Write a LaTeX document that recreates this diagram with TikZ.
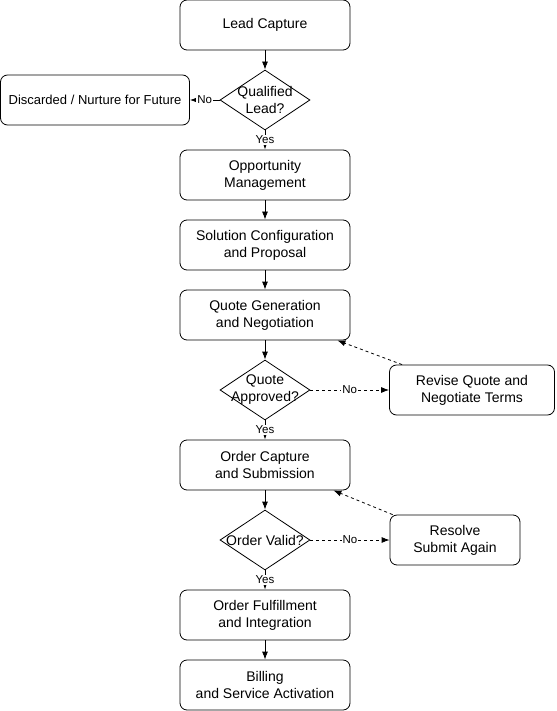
\documentclass[tikz,border=0pt]{standalone}
\usepackage{fontspec}
\setmainfont{Liberation Sans}
\usetikzlibrary{shapes,arrows.meta}

\begin{document}
\begin{tikzpicture}[node distance = 70pt, thick]

    % Define block styles
    \tikzstyle{block} = [rectangle, draw, rounded corners=7pt,
        minimum width=170pt, minimum height=50pt, align=center,
        font=\fontsize{14}{17}\selectfont]
    \tikzstyle{decision} = [diamond, draw, minimum width=90pt,
        minimum height=60pt, inner sep=0pt]
    \tikzstyle{decisiontext} = [align=center, font=\fontsize{14}{17}\selectfont]
    \tikzstyle{line} = [draw, -{Latex[length=8pt,width=6pt]}]
    \tikzstyle{back} = [line, dash pattern=on 3pt off 3pt]
    \tikzstyle{answer} = [fill=white, inner sep=1pt, font=\fontsize{11.5}{13}\selectfont]

    \useasboundingbox (0,0) rectangle (556pt,-711pt);

    % Place nodes
    \node [block] (lead) at (265pt,-25pt) {Lead Capture};
    \node [decision, below of=lead, node distance=75pt,
        label={[decisiontext]center:{Qualified\\Lead?}}] (qualify) {};
    \node [block, left of=qualify, node distance=170pt, minimum width=189pt,
        font=\fontsize{13}{16}\selectfont] (discard) {Discarded / Nurture for Future};
    \node [block, below of=qualify, node distance=75pt] (opportunity) {Opportunity\\Management};
    \node [block, below of=opportunity] (solution) {Solution Configuration\\and Proposal};
    \node [block, below of=solution] (quote) {Quote Generation\\and Negotiation};
    \node [decision, below of=quote, node distance=75pt,
        label={[decisiontext]center:{Quote\\Approved?}}] (approved) {};
    \node [block, right of=approved, node distance=207pt, minimum width=165pt] (revise) {Revise Quote and\\Negotiate Terms};
    \node [block, below of=approved, node distance=75pt] (order) {Order Capture\\and Submission};
    \node [decision, below of=order, node distance=75pt,
        label={[decisiontext]center:{Order Valid?}}] (valid) {};
    \node [block, right of=valid, node distance=190pt, minimum width=130pt] (resolve) {Resolve\\Submit Again};
    \node [block, below of=valid, node distance=75pt] (fulfil) {Order Fulfillment\\and Integration};
    \node [block, below of=fulfil] (billing) {Billing\\and Service Activation};

    % Draw edges
    \path [line] (lead) -- (qualify);
    \path [line] (qualify) -- node [answer] {No} (discard);
    \path [line] (qualify) -- node [answer] {Yes} (opportunity);
    \path [line] (opportunity) -- (solution);
    \path [line] (solution) -- (quote);
    \path [line] (quote) -- (approved);
    \path [back] (approved) -- node [answer] {No} (revise);
    \path [back] ([xshift=13pt]revise.north west) -- ([xshift=-13pt]quote.south east);
    \path [line] (approved) -- node [answer] {Yes} (order);
    \path [line] (order) -- (valid);
    \path [back] (valid) -- node [answer] {No} (resolve);
    \path [back] ([xshift=3pt]resolve.north west) -- ([xshift=-17pt]order.south east);
    \path [line] (valid) -- node [answer] {Yes} (fulfil);
    \path [line] (fulfil) -- (billing);

\end{tikzpicture}
\end{document}
